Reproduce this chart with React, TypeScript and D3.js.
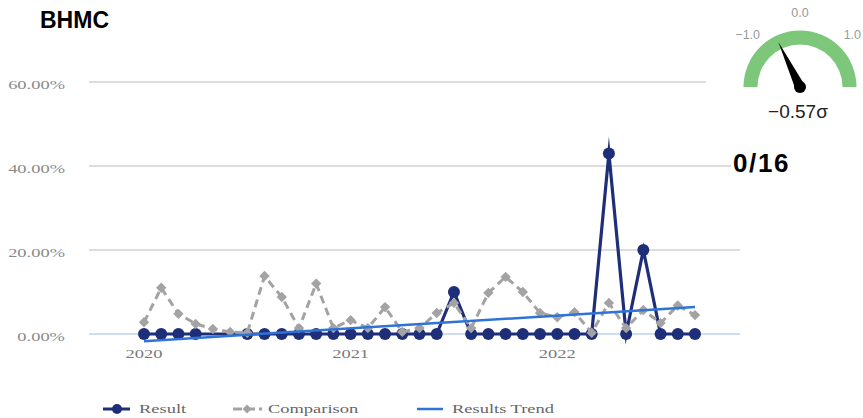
import React from "react";
import * as d3 from "d3";

const yearLabels = ["2020", "2021", "2022"];
const yearIndex = [0, 12, 24];
const resultValues: (number | null)[] = [
  0, 0, 0, 0, null, null, 0, 0, 0, 0, 0, 0,
  0, 0, 0, 0, 0, 0, 10, 0, 0, 0, 0, 0,
  0, 0, 0, 43, 0, 20, 0, 0, 0,
];
const comparisonValues = [
  2.8, 11, 4.8, 2.4, 1.2, 0.5, 0.3, 13.8, 8.8, 1.4, 12, 1.4,
  3.3, 1.4, 6.4, 0.5, 1.4, 5, 7.4, 1.4, 9.8, 13.6, 10, 5,
  4, 5.2, 0.3, 7.4, 1.4, 5.7, 2.6, 6.8, 4.5,
];
const trendValues = [-1.7, 6.4];
const yTicks = [0, 20, 40, 60];
const gaugeTicks = [-1, 0, 1];
const gaugeValue = -0.57;
const title = "BHMC";
const countLabel = "0/16";
const legendItems = ["Result", "Comparison", "Results Trend"];

const NAVY = "#1f2e78";
const GREY = "#a3a3a3";
const BLUE = "#2e74d8";
const SX = 1.42;

export default function App() {
  const x = d3.scaleLinear().domain([0, 32]).range([144, 695]);
  const y = d3.scaleLinear().domain([0, 60]).range([334, 82]);
  const gridX0 = 89;
  const gridX1 = 740;

  const resPts = resultValues
    .map((v, i) => ({ i, v }))
    .filter((d) => d.v !== null) as { i: number; v: number }[];
  const resLine = d3
    .line<{ i: number; v: number }>()
    .x((d) => x(d.i))
    .y((d) => y(d.v))(resPts) as string;
  const compLine = d3
    .line<number>()
    .x((_, i) => x(i))
    .y((d) => y(d))(comparisonValues) as string;
  const trendLine = d3
    .line<number>()
    .x((_, i) => x(i * 32))
    .y((d) => y(d))(trendValues) as string;

  // gauge
  const gcx = 800;
  const gcy = 87;
  const gAngle = d3.scaleLinear().domain([-2, 2]).range([-Math.PI / 2, Math.PI / 2]);
  const arcPath = d3
    .arc()
    .innerRadius(42.5)
    .outerRadius(56.5)
    .startAngle(-Math.PI / 2)
    .endAngle(Math.PI / 2)({} as any) as string;
  const na = gAngle(gaugeValue);
  const tipR = 50;
  const tip = [gcx + tipR * Math.sin(na), gcy - tipR * Math.cos(na)];
  const perp = [Math.cos(na), Math.sin(na)];
  const bw = 5;
  const needle = `M${tip[0]},${tip[1]} L${gcx + perp[0] * bw},${gcy + perp[1] * bw} L${gcx - perp[0] * bw},${gcy - perp[1] * bw} Z`;

  const serif = "'Liberation Serif', 'Times New Roman', serif";
  const sans = "'Liberation Sans', Arial, sans-serif";

  const stext = (
    key: string,
    tx: number,
    ty: number,
    label: string,
    anchor: "start" | "middle" | "end",
    fill: string,
    size = 13
  ) => (
    <text
      key={key}
      transform={`translate(${tx},${ty}) scale(${SX},1)`}
      textAnchor={anchor}
      fontFamily={serif}
      fontSize={size}
      fill={fill}
    >
      {label}
    </text>
  );

  const diamond = (cx: number, cy: number, r: number) =>
    `M${cx},${cy - r} L${cx + r},${cy} L${cx},${cy + r} L${cx - r},${cy} Z`;

  const legendY = 409;

  return (
    <svg
      width={863}
      height={418}
      style={{ position: "absolute", left: 0, top: 0, background: "#fff" }}
    >
      <rect width={863} height={418} fill="#fff" />
      {/* grid */}
      {yTicks.map((t) => (
        <line
          key={"g" + t}
          x1={gridX0}
          x2={gridX1}
          y1={y(t)}
          y2={y(t)}
          stroke={t === 0 ? "#bcd3ea" : "#d2d2d2"}
          strokeWidth={1.3}
        />
      ))}
      {yTicks.map((t) => stext("yt" + t, 65, y(t) + 7, `${t.toFixed(2)}%`, "end", "#8a8a8a"))}
      {yearLabels.map((l, k) => stext("xl" + l, x(yearIndex[k]), 358, l, "middle", "#7a7a7a"))}

      {/* result series */}
      <path
        d={resLine}
        fill="none"
        stroke={NAVY}
        strokeWidth={3.2}
        strokeLinejoin="miter"
        strokeMiterlimit={12}
      />
      {resPts.map((d) => (
        <circle key={"r" + d.i} cx={x(d.i)} cy={y(d.v)} r={6} fill={NAVY} />
      ))}

      {/* comparison series */}
      <path
        d={compLine}
        fill="none"
        stroke={GREY}
        strokeWidth={3}
        strokeDasharray="8,5"
      />
      {comparisonValues.map((v, i) => (
        <path key={"c" + i} d={diamond(x(i), y(v), 5.2)} fill={GREY} />
      ))}

      {/* trend */}
      <path d={trendLine} fill="none" stroke={BLUE} strokeWidth={2.5} />

      {/* legend */}
      <line x1={103} x2={130} y1={legendY} y2={legendY} stroke={NAVY} strokeWidth={3} />
      <circle cx={117} cy={legendY} r={5} fill={NAVY} />
      {stext("l0", 139, 413, legendItems[0], "start", "#666")}
      <line x1={233} x2={262} y1={legendY} y2={legendY} stroke={GREY} strokeWidth={3} strokeDasharray="9,4" />
      <path d={diamond(247, legendY, 4.5)} fill={GREY} />
      {stext("l1", 268, 413, legendItems[1], "start", "#666")}
      <line x1={417} x2={443} y1={legendY} y2={legendY} stroke={BLUE} strokeWidth={2.5} />
      {stext("l2", 452, 413, legendItems[2], "start", "#666")}

      {/* title */}
      <text x={40} y={28} fontFamily={sans} fontWeight="bold" fontSize={23} fill="#000">
        {title}
      </text>

      {/* gauge */}
      <rect x={706} y={0} width={157} height={128} fill="#fff" />
      <path d={arcPath} transform={`translate(${gcx},${gcy})`} fill="#7dc77a" />
      {gaugeTicks.map((t) => {
        const a = gAngle(t);
        const r = 74;
        return (
          <text
            key={"gt" + t}
            x={gcx + r * Math.sin(a)}
            y={gcy - r * Math.cos(a) + 4}
            textAnchor="middle"
            fontFamily={sans}
            fontSize={12.5}
            fill="#999"
          >
            {t < 0 ? "\u2212" + Math.abs(t).toFixed(1) : t.toFixed(1)}
          </text>
        );
      })}
      <path d={needle} fill="#000" />
      <circle cx={gcx} cy={gcy} r={6} fill="#000" />
      <text
        x={798}
        y={118}
        textAnchor="middle"
        fontFamily={sans}
        fontSize={19}
        fill="#222"
      >
        {"\u2212" + Math.abs(gaugeValue).toFixed(2) + "\u03c3"}
      </text>

      <rect x={731} y={148} width={70} height={30} fill="#fff" />
      <text
        x={733}
        y={172}
        fontFamily={sans}
        fontWeight="bold"
        fontSize={26}
        letterSpacing={1.6}
        fill="#000"
      >
        {countLabel}
      </text>
    </svg>
  );
}
